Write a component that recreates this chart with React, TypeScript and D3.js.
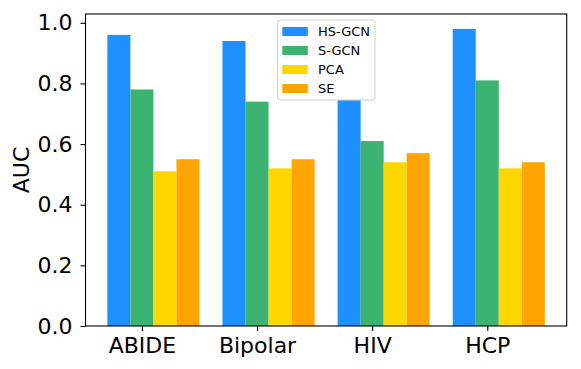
import React, { useRef, useEffect } from 'react';
import * as d3 from 'd3';

const datasets = ['ABIDE', 'Bipolar', 'HIV', 'HCP'];
const methods = ['HS-GCN', 'S-GCN', 'PCA', 'SE'];
const hsGcn = [0.96, 0.94, 0.82, 0.98];
const sGcn = [0.78, 0.74, 0.61, 0.81];
const pca = [0.51, 0.52, 0.54, 0.52];
const se = [0.55, 0.55, 0.57, 0.54];
const yTicks = [0.0, 0.2, 0.4, 0.6, 0.8, 1.0];
const colors = ['#1e90ff', '#3cb371', '#ffd700', '#ffa500'];

export default function App() {
	const svgWidth = 581;
	const svgHeight = 369;
	const ref = useRef<SVGSVGElement>(null);

	useEffect(() => {
		if (!ref.current) return;
		const series = [hsGcn, sGcn, pca, se];
		const margin = { top: 14, right: 14.3, bottom: 43, left: 85.5 };
		const width = svgWidth - margin.left - margin.right;
		const height = svgHeight - margin.top - margin.bottom;
		const font = 'DejaVu Sans, sans-serif';

		d3.select(ref.current).selectAll('*').remove();
		const svg = d3
			.select(ref.current)
			.append('g')
			.attr('transform', 'translate(' + margin.left + ',' + margin.top + ')');

		const barW = 0.2;
		const xScale = d3.scaleLinear().domain([-0.49, 3.69]).range([0, width]);
		const yScale = d3.scaleLinear().domain([0, 1.029]).range([height, 0]);

		/* bars, offset so the tick sits on the second bar */
		series.forEach((vals, k) => {
			svg.append('g')
				.selectAll('rect')
				.data(vals)
				.enter()
				.append('rect')
				.attr('x', (d, i) => xScale(i + (k - 1) * barW - barW / 2))
				.attr('width', xScale(barW) - xScale(0))
				.attr('y', (d) => yScale(d))
				.attr('height', (d) => yScale(0) - yScale(d))
				.attr('fill', colors[k]);
		});

		const xAxis = d3
			.axisBottom(xScale)
			.tickValues(d3.range(datasets.length))
			.tickFormat((d: any) => datasets[d])
			.tickSizeInner(5)
			.tickSizeOuter(0)
			.tickPadding(6);
		const gx = svg.append('g').attr('transform', 'translate(0,' + height + ')').call(xAxis);
		gx.select('.domain').remove();
		gx.selectAll('text').style('font-family', font).style('font-size', '22px').attr('fill', '#000');
		gx.selectAll('line').attr('stroke', '#000').attr('stroke-width', 1.1);

		const yAxis = d3
			.axisLeft(yScale)
			.tickValues(yTicks)
			.tickFormat(d3.format('.1f'))
			.tickSizeInner(5)
			.tickSizeOuter(0)
			.tickPadding(8);
		const gy = svg.append('g').call(yAxis);
		gy.select('.domain').remove();
		gy.selectAll('text').style('font-family', font).style('font-size', '22px').attr('fill', '#000');
		gy.selectAll('line').attr('stroke', '#000').attr('stroke-width', 1.1);

		svg.append('rect')
			.attr('width', width)
			.attr('height', height)
			.attr('fill', 'none')
			.attr('stroke', '#000')
			.attr('stroke-width', 1.1);

		svg.append('text')
			.attr('text-anchor', 'middle')
			.attr('transform', 'rotate(-90)')
			.attr('x', -(170 - margin.top))
			.attr('y', 29 - margin.left)
			.style('font-family', font)
			.style('font-size', '22px')
			.text('AUC');

		/* legend, opaque so it hides the HIV HS-GCN bar top */
		const lg = svg.append('g').attr('transform', 'translate(' + (277.5 - margin.left) + ',' + (20 - margin.top) + ')');
		lg.append('rect')
			.attr('width', 97.5)
			.attr('height', 80)
			.attr('rx', 3)
			.attr('fill', '#fff')
			.attr('stroke', '#d0d0d0')
			.attr('stroke-width', 1);
		methods.forEach((m, k) => {
			const cy = 11.5 + k * 19;
			lg.append('rect').attr('x', 4.8).attr('y', cy - 4.5).attr('width', 25.5).attr('height', 9).attr('fill', colors[k]);
			lg.append('text')
				.attr('x', 40.5)
				.attr('y', cy)
				.attr('dy', '0.36em')
				.style('font-family', font)
				.style('font-size', '13px')
				.text(m);
		});
	}, []);

	return <svg width={svgWidth} height={svgHeight} ref={ref} style={{ position: 'absolute', left: 0, top: 0, background: '#fff' }} />;
}
